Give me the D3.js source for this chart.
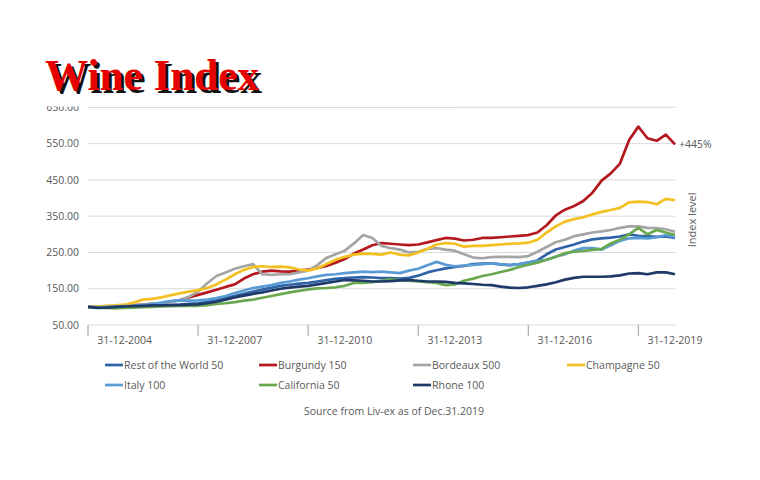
<!DOCTYPE html>
<html><head><meta charset="utf-8">
<script src="https://cdn.jsdelivr.net/npm/d3@7"></script>
<style>
html,body{margin:0;padding:0;background:#fff;}
svg{display:block;}
.lbl{font-family:"Open Sans",sans-serif;}
.ttl{font-family:"Liberation Serif","Times New Roman",serif;font-weight:bold;}
</style></head>
<body>
<svg id="chart" width="760" height="480"></svg>
<script>
// quarterly time points, 31-12-2003 .. 31-12-2019 (value t = year of 31 Dec)
const dates = d3.range(0, 65).map(i => 2003 + i / 4);

const restOfWorld = [100,98,99,100, 100,101,102,103, 104,105,106,108, 110,114,118,124, 130,136,142,148, 153,158,161,164, 166,170,174,177, 179,181,182,181, 179,179,178,180, 186,195,201,206, 210,213,218,219, 220,217,215,218, 222,228,245,258, 265,272,280,286, 289,291,294,300, 296,295,293,294, 290];
const burgundy = [100,100,101,102, 102,104,106,108, 110,114,119,126, 133,140,147,155, 162,178,190,197, 200,198,197,200, 203,207,213,222, 232,247,258,270, 276,274,272,270, 272,278,284,290, 288,283,285,290, 290,292,294,296, 298,305,325,352, 368,378,392,415, 448,468,495,560, 597,565,558,575, 548];
const bordeaux = [100,100,101,102, 103,104,106,108, 110,113,118,128, 142,165,185,195, 205,212,218,190, 188,190,190,195, 200,215,235,245, 255,275,298,290, 268,262,258,250, 252,260,262,258, 255,245,236,234, 237,238,238,237, 240,252,265,278, 285,295,300,305, 308,312,318,322, 322,318,317,314, 307];
const champagne = [100,101,103,104, 106,112,120,122, 126,132,137,142, 146,152,162,175, 190,202,210,212, 210,211,209,203, 200,206,218,230, 238,244,247,246, 244,250,244,242, 250,260,272,276, 274,266,268,268, 270,272,274,275, 277,285,305,322, 335,342,347,355, 362,367,373,388, 390,389,383,398, 394];
const italy = [100,99,100,101, 102,103,105,108, 112,116,118,117, 118,120,124,130, 138,145,152,156, 160,166,170,175, 179,184,188,190, 193,195,197,196, 197,195,193,200, 205,215,224,216, 212,214,216,218, 220,217,215,218, 222,226,230,238, 245,255,262,262, 258,270,282,289, 290,289,292,298, 292];
const california = [100,98,97,96, 97,98,99,100, 101,102,103,103, 103,105,108,110, 113,117,120,125, 130,135,140,144, 148,151,152,154, 158,166,166,168, 172,176,174,172, 170,168,166,160, 162,172,178,185, 190,196,202,210, 216,222,230,238, 248,252,254,257, 260,275,285,300, 318,300,312,305, 298];
const rhone = [100,97,98,100, 101,102,103,104, 104,105,105,106, 107,110,114,120, 126,131,136,140, 145,150,153,156, 158,162,166,170, 174,173,172,170, 170,171,173,174, 172,170,170,169, 166,165,163,161, 160,156,153,152, 154,158,162,168, 175,180,183,183, 183,184,187,192, 193,190,195,195, 190];

const seriesNames = ["Rest of the World 50","Burgundy 150","Bordeaux 500","Champagne 50","Italy 100","California 50","Rhone 100"];
const seriesValues = [restOfWorld, burgundy, bordeaux, champagne, italy, california, rhone];
const seriesColors = ["#2f63a8","#b3191f","#a5a5a5","#f4c020","#5b9bd5","#6aa84f","#1f3a68"];

const yTicks = [50,150,250,350,450,550,650];
const xTickYears = [2003,2006,2009,2012,2015,2018];
const xLabelYears = [2004,2007,2010,2013,2016,2019];
const xLabels = ["31-12-2004","31-12-2007","31-12-2010","31-12-2013","31-12-2016","31-12-2019"];

const title = "Wine Index";
const endLabel = "+445%";
const yAxisTitle = "Index level";
const source = "Source from Liv-ex as of Dec.31.2019";

const svg = d3.select("#chart");
const x = d3.scaleLinear().domain([2003, 2019]).range([88, 675]);
const y = d3.scaleLinear().domain([50, 650]).range([325, 107.4]);

// gridlines
svg.append("g").selectAll("line").data(yTicks).join("line")
  .attr("x1", x(2003)).attr("x2", x(2019))
  .attr("y1", d => y(d)).attr("y2", d => y(d))
  .attr("stroke", "#d9d9d9").attr("stroke-width", 1);

// y labels
svg.append("g").selectAll("text").data(yTicks).join("text")
  .attr("class", "lbl")
  .attr("x", 79).attr("y", d => y(d)).attr("dy", "0.35em")
  .attr("text-anchor", "end").attr("font-size", 10.5).attr("fill", "#595959")
  .text(d => d3.format(".2f")(d));

// x ticks
svg.append("g").selectAll("line").data(xTickYears).join("line")
  .attr("x1", d => x(d)).attr("x2", d => x(d))
  .attr("y1", y(50)).attr("y2", y(50) + 11)
  .attr("stroke", "#9a9a9a").attr("stroke-width", 1);
svg.append("g").selectAll("text").data(xLabelYears).join("text")
  .attr("class", "lbl")
  .attr("x", d => x(d)).attr("y", y(50) + 15).attr("dy", "0.35em")
  .attr("text-anchor", "middle").attr("font-size", 10.5).attr("fill", "#595959")
  .text((d, i) => xLabels[i]);

// lines
const line = d3.line().x((d, i) => x(dates[i])).y(d => y(d)).curve(d3.curveLinear);
svg.append("g").selectAll("path").data(seriesValues).join("path")
  .attr("d", d => line(d))
  .attr("fill", "none")
  .attr("stroke", (d, i) => seriesColors[i])
  .attr("stroke-width", 2.7)
  .attr("stroke-linejoin", "round");

// end label & axis title
svg.append("text").attr("class", "lbl").attr("x", x(2019) + 4).attr("y", y(burgundy[burgundy.length - 1])).attr("dy", "0.35em")
  .attr("font-size", 10.5).attr("fill", "#595959").text(endLabel);
svg.append("text").attr("class", "lbl").attr("transform", `translate(${x(2019) + 17},${y(340)}) rotate(-90)`)
  .attr("text-anchor", "middle").attr("dy", "0.35em")
  .attr("font-size", 11).attr("fill", "#595959").text(yAxisTitle);

// legend
const legend = svg.append("g");
seriesNames.forEach((name, i) => {
  const col = i < 4 ? i : i - 4;
  const row = i < 4 ? 0 : 1;
  const lx = 105 + col * 154, ly = 365 + row * 20;
  legend.append("line").attr("x1", lx).attr("x2", lx + 18).attr("y1", ly).attr("y2", ly)
    .attr("stroke", seriesColors[i]).attr("stroke-width", 2.7);
  legend.append("text").attr("class", "lbl").attr("x", lx + 19).attr("y", ly).attr("dy", "0.35em")
    .attr("font-size", 10.5).attr("fill", "#595959").text(name);
});

// source
svg.append("text").attr("class", "lbl").attr("x", 394).attr("y", 411).attr("dy", "0.35em").attr("text-anchor", "middle")
  .attr("font-size", 10.5).attr("fill", "#595959").text(source);

// title image area (white box covering top-left, as in the reference)
svg.append("rect").attr("x", 0).attr("y", 0).attr("width", 458).attr("height", 106.5).attr("fill", "#fff");
svg.append("text").attr("class", "ttl").attr("x", 48).attr("y", 93)
  .attr("font-size", 44).attr("textLength", 214).attr("lengthAdjust", "spacingAndGlyphs")
  .attr("fill", "#111").text(title);
svg.append("text").attr("class", "ttl").attr("x", 45).attr("y", 90)
  .attr("font-size", 44).attr("textLength", 214).attr("lengthAdjust", "spacingAndGlyphs")
  .attr("fill", "#e60000").text(title);
</script>
</body></html>
